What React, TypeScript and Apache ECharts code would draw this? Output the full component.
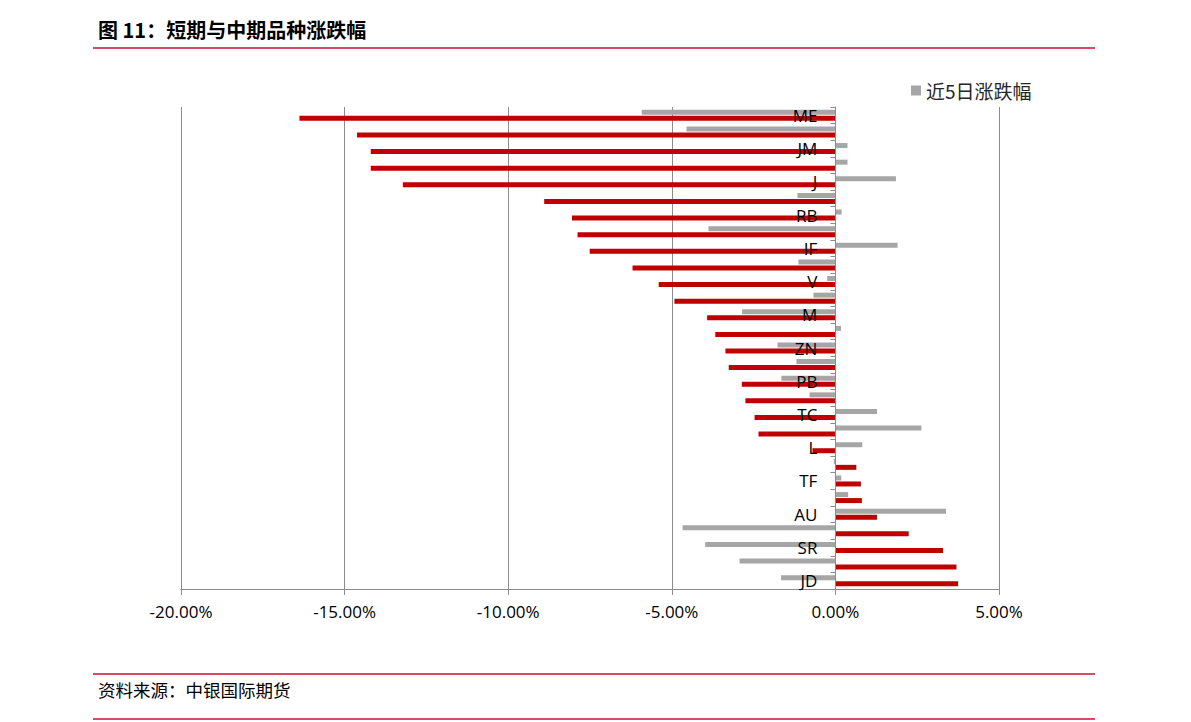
import React, { useEffect, useRef } from "react";
import * as echarts from "echarts";

const categories = [
  "ME", "ZC", "JM", "I", "J", "FG", "RB", "HC", "IF", "IC",
  "V", "TA", "M", "RM", "ZN", "CU", "PB", "AL", "TC", "PP",
  "L", "T", "TF", "IH", "AU", "AG", "SR", "CF", "JD",
];

const change20d = [
  -16.38, -14.62, -14.2, -14.2, -13.22, -8.9, -8.05, -7.88, -7.51, -6.2,
  -5.4, -4.92, -3.92, -3.67, -3.36, -3.26, -2.86, -2.75, -2.47, -2.35,
  -0.7, 0.64, 0.78, 0.81, 1.27, 2.24, 3.29, 3.7, 3.75,
];

const change5d = [
  -5.92, -4.55, 0.37, 0.37, 1.85, -1.16, 0.19, -3.88, 1.9, -1.13,
  -0.25, -0.67, -2.85, 0.17, -1.77, -1.19, -1.65, -0.79, 1.27, 2.63,
  0.82, -0.05, 0.18, 0.39, 3.38, -4.67, -3.98, -2.93, -1.66,
];

const xMin = -20;
const xMax = 5;
const xInterval = 5;

const titleText = "图 11：短期与中期品种涨跌幅";
const sourceText = "资料来源：中银国际期货";
const legendName = "近5日涨跌幅";
const otherName = "近20日涨跌幅";

export default function App() {
  const ref = useRef<HTMLDivElement>(null);
  useEffect(() => {
    document.body.style.margin = "0";
    const chart = echarts.init(ref.current!, null, { renderer: "svg" });
    const gridColor = "#8c8c8c";
    const red = "#C8102E";
    const gridLeft = 181;
    const gridRight = 192;
    const plotWidth = 1191 - gridLeft - gridRight;
    // shift the category axis so that it sits on the zero value of the x axis
    const zeroOffset = -((0 - xMin) / (xMax - xMin)) * plotWidth;
    chart.setOption({
      animation: false,
      backgroundColor: "#ffffff",
      grid: { left: gridLeft, right: gridRight, top: 107, bottom: 133, containLabel: false },
      legend: {
        data: [legendName],
        left: 906,
        top: 76,
        itemWidth: 10,
        itemHeight: 10,
        icon: "rect",
        textStyle: { fontSize: 19, color: "#262626", fontFamily: "Noto Sans CJK SC" },
      },
      xAxis: {
        type: "value",
        min: xMin,
        max: xMax,
        interval: xInterval,
        axisLine: { show: true, onZero: false, lineStyle: { color: gridColor, width: 1 } },
        axisTick: { show: true, length: 6, lineStyle: { color: gridColor } },
        splitLine: { show: true, lineStyle: { color: gridColor, width: 1 } },
        axisLabel: {
          formatter: (v: number) => v.toFixed(2) + "%",
          fontSize: 17,
          color: "#000",
          margin: 14,
          fontFamily: "Open Sans",
        },
      },
      yAxis: {
        type: "category",
        inverse: true,
        data: categories,
        position: "left",
        offset: zeroOffset,
        z: 10,
        axisLine: { show: true, onZero: false, lineStyle: { color: gridColor, width: 1 } },
        axisTick: { show: true, interval: 0, length: 5, lineStyle: { color: gridColor } },
        axisLabel: {
          interval: 1,
          fontSize: 17,
          color: "#000",
          margin: 18,
          fontFamily: "Open Sans",
        },
        splitLine: { show: false },
      },
      series: [
        {
          name: legendName,
          type: "bar",
          data: change5d,
          barWidth: 5,
          barGap: "20%",
          itemStyle: { color: "#A6A6A6" },
        },
        {
          name: otherName,
          type: "bar",
          data: change20d,
          barWidth: 5,
          barGap: "20%",
          itemStyle: { color: "#C00000" },
        },
      ],
      graphic: [
        {
          type: "text",
          left: 98,
          top: 19,
          style: {
            text: titleText,
            fontSize: 20,
            fontWeight: "bold",
            fill: "#000",
            fontFamily: "Noto Sans CJK SC",
          },
        },
        {
          type: "line",
          shape: { x1: 93, y1: 48, x2: 1095, y2: 48 },
          style: { stroke: red, lineWidth: 1.5 },
        },
        {
          type: "line",
          shape: { x1: 93, y1: 674, x2: 1095, y2: 674 },
          style: { stroke: red, lineWidth: 1.5 },
        },
        {
          type: "text",
          left: 98,
          top: 681,
          style: {
            text: sourceText,
            fontSize: 17.5,
            fill: "#000",
            fontFamily: "Noto Sans CJK SC",
          },
        },
        {
          type: "line",
          shape: { x1: 93, y1: 719, x2: 1095, y2: 719 },
          style: { stroke: red, lineWidth: 1.5 },
        },
      ],
    });
    return () => chart.dispose();
  }, []);
  return <div ref={ref} style={{ width: 1191, height: 722 }} />;
}
